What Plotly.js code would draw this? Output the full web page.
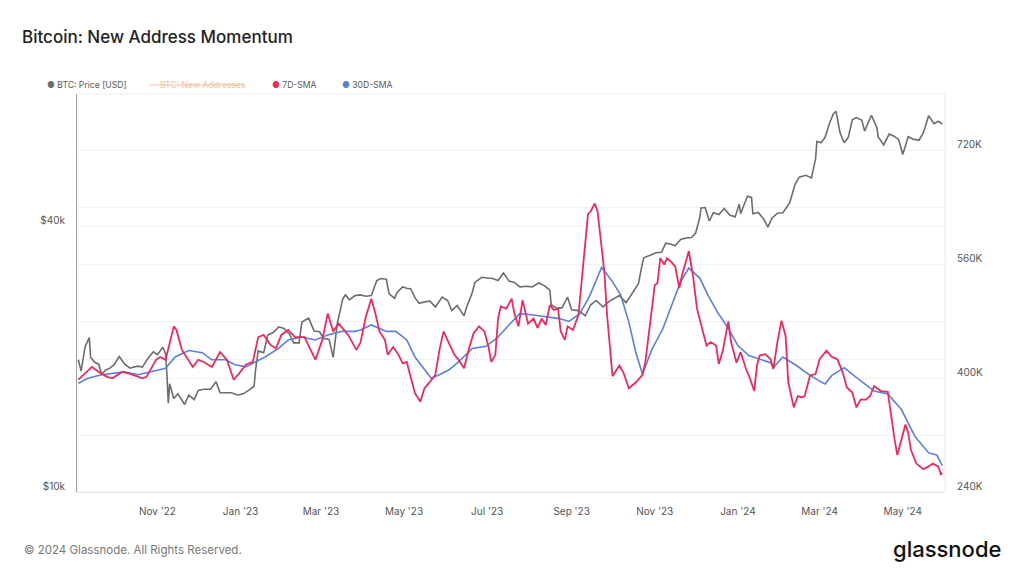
<!DOCTYPE html>
<html>
<head>
<meta charset="utf-8">
<script src="https://cdn.plot.ly/plotly-3.0.1.min.js"></script>
<style>html,body{margin:0;padding:0;background:#fff;}#chart{width:1024px;height:576px;}</style>
</head>
<body>
<div id="chart"></div>
<script>
// BTC price (USD), left log axis
const priceDates = ['2022-09-04','2022-09-06','2022-09-09','2022-09-12','2022-09-13','2022-09-16','2022-09-19','2022-09-21','2022-09-24','2022-09-27','2022-09-30','2022-10-04','2022-10-08','2022-10-12','2022-10-14','2022-10-18','2022-10-21','2022-10-25','2022-10-29','2022-11-01','2022-11-05','2022-11-07','2022-11-08','2022-11-09','2022-11-10','2022-11-13','2022-11-16','2022-11-21','2022-11-24','2022-11-28','2022-12-01','2022-12-05','2022-12-10','2022-12-14','2022-12-17','2022-12-21','2022-12-25','2022-12-30','2023-01-03','2023-01-08','2023-01-11','2023-01-12','2023-01-14','2023-01-18','2023-01-21','2023-01-25','2023-01-29','2023-02-02','2023-02-06','2023-02-09','2023-02-13','2023-02-15','2023-02-20','2023-02-24','2023-02-28','2023-03-03','2023-03-07','2023-03-10','2023-03-13','2023-03-17','2023-03-19','2023-03-22','2023-03-26','2023-03-30','2023-04-03','2023-04-07','2023-04-11','2023-04-14','2023-04-18','2023-04-20','2023-04-24','2023-04-26','2023-04-30','2023-05-03','2023-05-06','2023-05-09','2023-05-12','2023-05-16','2023-05-20','2023-05-24','2023-05-29','2023-06-02','2023-06-05','2023-06-09','2023-06-14','2023-06-16','2023-06-20','2023-06-22','2023-06-27','2023-07-01','2023-07-05','2023-07-09','2023-07-13','2023-07-17','2023-07-21','2023-07-25','2023-07-30','2023-08-03','2023-08-08','2023-08-12','2023-08-16','2023-08-17','2023-08-21','2023-08-25','2023-08-29','2023-09-01','2023-09-06','2023-09-11','2023-09-15','2023-09-19','2023-09-24','2023-09-28','2023-10-02','2023-10-06','2023-10-11','2023-10-16','2023-10-20','2023-10-23','2023-10-24','2023-10-29','2023-11-02','2023-11-06','2023-11-09','2023-11-13','2023-11-16','2023-11-20','2023-11-24','2023-11-28','2023-12-01','2023-12-04','2023-12-05','2023-12-08','2023-12-11','2023-12-14','2023-12-18','2023-12-22','2023-12-26','2023-12-30','2024-01-02','2024-01-03','2024-01-08','2024-01-11','2024-01-12','2024-01-16','2024-01-20','2024-01-23','2024-01-26','2024-01-30','2024-02-03','2024-02-08','2024-02-12','2024-02-15','2024-02-20','2024-02-24','2024-02-27','2024-02-28','2024-03-02','2024-03-05','2024-03-08','2024-03-11','2024-03-13','2024-03-16','2024-03-19','2024-03-22','2024-03-25','2024-03-28','2024-04-01','2024-04-03','2024-04-08','2024-04-12','2024-04-13','2024-04-17','2024-04-21','2024-04-24','2024-04-28','2024-05-01','2024-05-05','2024-05-09','2024-05-13','2024-05-16','2024-05-20','2024-05-24','2024-05-27','2024-05-30'];
const priceUSD = [19950,18800,21400,22400,20200,19700,19500,18500,18900,19100,19400,20300,19500,19100,19200,19300,19200,20100,20800,20500,21300,20600,18500,15900,17600,16300,16700,15800,16600,16200,17000,17100,17100,17800,16800,16800,16800,16600,16700,17100,17400,18900,20900,20700,22700,23000,23700,23500,22800,21800,21800,24300,24800,23200,23100,22300,22200,20200,24100,27400,28000,27300,27900,28000,27800,27900,30200,30500,30400,28200,27500,28400,29200,29000,28900,27600,26800,27000,27100,26300,27700,27200,25800,26500,25100,26300,28300,29900,30700,30600,30500,30200,31400,30100,29900,29200,29300,29200,29800,29400,28700,26600,26100,26200,27700,25900,25800,25100,26600,27200,26300,27000,27500,27900,26900,28500,29700,33100,34000,34500,34900,35000,36700,36500,36200,37400,37700,37800,38700,41900,44100,44200,41200,43000,42600,44000,42500,42100,45000,42800,46900,46600,42800,43100,41600,39900,41800,42900,43000,45300,49900,51800,52300,51600,57000,62500,62000,63800,68300,72100,73100,65300,62000,63800,69900,70700,69700,65900,71600,67100,63900,61300,64900,64300,63100,58300,64000,63100,62900,65200,71400,68500,69400,68400];

// 7D-SMA of new addresses (thousands), right axis
const sma7Dates = ['2022-09-04','2022-09-14','2022-09-19','2022-09-25','2022-09-29','2022-10-06','2022-10-11','2022-10-16','2022-10-21','2022-10-24','2022-10-31','2022-11-03','2022-11-07','2022-11-13','2022-11-15','2022-11-19','2022-11-24','2022-11-27','2022-12-01','2022-12-05','2022-12-11','2022-12-17','2022-12-22','2022-12-27','2022-12-31','2023-01-05','2023-01-10','2023-01-14','2023-01-18','2023-01-23','2023-01-27','2023-01-31','2023-02-05','2023-02-10','2023-02-17','2023-02-25','2023-03-02','2023-03-06','2023-03-10','2023-03-14','2023-03-21','2023-03-27','2023-03-30','2023-04-03','2023-04-07','2023-04-10','2023-04-13','2023-04-17','2023-04-19','2023-04-23','2023-04-27','2023-04-30','2023-05-03','2023-05-05','2023-05-09','2023-05-13','2023-05-16','2023-05-20','2023-05-24','2023-05-27','2023-05-30','2023-06-03','2023-06-07','2023-06-10','2023-06-14','2023-06-18','2023-06-21','2023-06-25','2023-06-29','2023-07-02','2023-07-04','2023-07-07','2023-07-09','2023-07-11','2023-07-15','2023-07-19','2023-07-21','2023-07-24','2023-07-27','2023-07-31','2023-08-04','2023-08-07','2023-08-10','2023-08-13','2023-08-16','2023-08-19','2023-08-22','2023-08-24','2023-08-27','2023-08-29','2023-09-02','2023-09-06','2023-09-08','2023-09-13','2023-09-15','2023-09-18','2023-09-20','2023-09-23','2023-09-25','2023-09-27','2023-10-01','2023-10-06','2023-10-09','2023-10-13','2023-10-18','2023-10-23','2023-10-25','2023-10-29','2023-11-01','2023-11-03','2023-11-05','2023-11-08','2023-11-10','2023-11-13','2023-11-16','2023-11-19','2023-11-21','2023-11-26','2023-11-29','2023-12-02','2023-12-06','2023-12-09','2023-12-12','2023-12-16','2023-12-18','2023-12-21','2023-12-23','2023-12-25','2023-12-27','2023-12-31','2024-01-03','2024-01-07','2024-01-10','2024-01-13','2024-01-15','2024-01-17','2024-01-21','2024-01-25','2024-01-27','2024-01-30','2024-02-02','2024-02-05','2024-02-07','2024-02-11','2024-02-14','2024-02-17','2024-02-19','2024-02-23','2024-02-27','2024-03-01','2024-03-06','2024-03-10','2024-03-14','2024-03-18','2024-03-21','2024-03-25','2024-03-28','2024-03-31','2024-04-04','2024-04-07','2024-04-10','2024-04-15','2024-04-20','2024-04-22','2024-04-25','2024-04-27','2024-04-30','2024-05-03','2024-05-05','2024-05-07','2024-05-11','2024-05-16','2024-05-20','2024-05-23','2024-05-27','2024-05-29','2024-05-30'];
const sma7K = [398,416,409,402,400,409,407,404,400,402,426,430,426,473,468,440,426,416,426,423,416,437,426,398,407,419,423,458,461,447,442,461,468,458,458,426,454,491,466,477,461,440,450,487,512,491,466,454,433,444,433,421,423,407,379,367,386,395,405,440,466,449,433,426,414,444,463,473,466,444,423,433,484,501,498,512,491,473,510,477,484,471,484,475,503,496,498,466,454,473,468,489,529,631,635,646,635,588,550,489,403,418,408,386,394,405,422,484,531,534,569,560,569,564,557,527,545,579,545,498,470,446,451,446,420,439,460,480,451,422,437,413,399,382,418,432,434,427,413,451,481,460,394,359,375,373,375,404,406,427,439,430,427,408,387,380,359,370,370,375,389,382,381,352,314,292,314,335,323,299,280,272,276,280,276,265,267];

// 30D-SMA of new addresses (thousands), right axis
const sma30Dates = ['2022-09-04','2022-09-11','2022-09-21','2022-10-01','2022-10-08','2022-10-18','2022-10-28','2022-11-07','2022-11-14','2022-11-24','2022-12-04','2022-12-11','2022-12-21','2022-12-28','2023-01-05','2023-01-12','2023-01-19','2023-01-29','2023-02-05','2023-02-15','2023-02-25','2023-03-06','2023-03-16','2023-03-26','2023-03-30','2023-04-07','2023-04-18','2023-04-25','2023-05-03','2023-05-09','2023-05-16','2023-05-21','2023-05-27','2023-06-03','2023-06-10','2023-06-20','2023-06-30','2023-07-08','2023-07-17','2023-07-25','2023-08-04','2023-08-13','2023-08-23','2023-08-30','2023-09-07','2023-09-14','2023-09-19','2023-09-23','2023-10-01','2023-10-07','2023-10-13','2023-10-18','2023-10-23','2023-10-30','2023-11-07','2023-11-14','2023-11-20','2023-11-26','2023-12-04','2023-12-10','2023-12-17','2023-12-25','2024-01-01','2024-01-09','2024-01-17','2024-01-25','2024-01-27','2024-02-03','2024-02-13','2024-02-23','2024-03-01','2024-03-05','2024-03-10','2024-03-19','2024-03-26','2024-04-03','2024-04-10','2024-04-20','2024-04-30','2024-05-10','2024-05-20','2024-05-26','2024-05-30'];
const sma30K = [393,400,405,407,409,405,409,414,430,439,436,426,426,419,416,423,430,442,454,458,454,461,466,466,468,475,466,466,454,430,412,400,405,412,423,442,445,456,475,491,489,487,484,480,491,515,538,556,536,517,479,437,406,441,470,507,536,555,541,517,493,470,446,432,427,422,415,430,418,404,396,392,404,415,404,392,382,378,356,318,295,292,277];

const leftTickVals = [10000, 20000, 40000];
const leftTickText = ['$10k', '', '$40k'];

const GRAY = '#6d6d6d', RED = '#ec2b5d', BLUE = '#5a80dc', PEACH = '#f4c3a3';

const traces = [
  {x: priceDates, y: priceUSD, type: 'scatter', mode: 'lines', name: 'BTC: Price [USD]', yaxis: 'y',
   line: {color: GRAY, width: 1.6}, hoverinfo: 'skip'},
  {x: sma30Dates, y: sma30K, type: 'scatter', mode: 'lines', name: '30D-SMA', yaxis: 'y2',
   line: {color: BLUE, width: 1.6}, hoverinfo: 'skip'},
  {x: sma7Dates, y: sma7K, type: 'scatter', mode: 'lines', name: '7D-SMA', yaxis: 'y2',
   line: {color: RED, width: 1.8}, hoverinfo: 'skip'}
];

const L = 77, R = 945, T = 94, B = 492;
const px = v => (v - L) / (R - L);
const py = v => (B - v) / (B - T);

const legY = py(85);
const annFont = {family: 'Inter, Roboto, sans-serif', size: 8.6, color: '#5a5a5a'};

const layout = {
  width: 1024, height: 576,
  margin: {l: L, r: 1024 - R, t: T, b: 576 - B, pad: 0},
  paper_bgcolor: '#ffffff', plot_bgcolor: '#ffffff',
  showlegend: false,
  font: {family: 'Inter, Roboto, sans-serif', size: 10, color: '#555'},
  title: {text: 'Bitcoin: New Address Momentum', x: 22/1024, xref: 'container', xanchor: 'left',
          y: 1 - 37/576, yref: 'container', yanchor: 'middle',
          font: {family: 'Inter, Roboto, sans-serif', size: 17, color: '#222', weight: 500}},
  xaxis: {type: 'date', range: ['2022-09-03', '2024-06-01'], tick0: '2022-11-01', dtick: 'M2',
          tickformat: "%b '%y", showgrid: false, zeroline: false, showline: true, linecolor: '#e6e6e6',
          ticks: '', ticklabelstandoff: 10, tickfont: {size: 10, color: '#555'}, fixedrange: true},
  yaxis: {type: 'log', range: [4, Math.log10(80000)], tickmode: 'array', tickvals: leftTickVals, ticktext: leftTickText,
          showgrid: true, gridcolor: '#f1f1f1', gridwidth: 1, zeroline: false, showline: true, linecolor: '#a3a3a3',
          ticks: '', ticklabelstandoff: 9, ticklabelshift: -6, tickfont: {size: 10, color: '#555'}, fixedrange: true},
  yaxis2: {overlaying: 'y', side: 'right', range: [240, 800], tick0: 240, dtick: 160, ticksuffix: 'K',
           showgrid: true, gridcolor: '#f1f1f1', zeroline: false, showline: false, ticks: '',
           minor: {tick0: 240, dtick: 80, showgrid: true, gridcolor: '#f1f1f1', ticks: ''},
           ticklabelstandoff: 11, ticklabelshift: -6, tickfont: {size: 10, color: '#555'}, fixedrange: true},
  shapes: [
    {type: 'rect', xref: 'paper', yref: 'paper', x0: 0, x1: 1, y0: 0, y1: 1, layer: 'below',
     line: {color: '#f1e9e4', width: 1}},
    {type: 'line', xref: 'paper', yref: 'paper', x0: px(149), x1: px(245), y0: legY, y1: legY,
     line: {color: PEACH, width: 1}}
  ],
  annotations: [
    {xref: 'paper', yref: 'paper', x: px(45), y: legY, xanchor: 'left', yanchor: 'middle', showarrow: false,
     text: '<span style="color:' + GRAY + '">●</span> BTC: Price [USD]', font: annFont},
    {xref: 'paper', yref: 'paper', x: px(158), y: legY, xanchor: 'left', yanchor: 'middle', showarrow: false,
     text: 'BTC: New Addresses', font: {family: annFont.family, size: 8.6, color: PEACH}},
    {xref: 'paper', yref: 'paper', x: px(270), y: legY, xanchor: 'left', yanchor: 'middle', showarrow: false,
     text: '<span style="color:' + RED + '">●</span> 7D-SMA', font: annFont},
    {xref: 'paper', yref: 'paper', x: px(340), y: legY, xanchor: 'left', yanchor: 'middle', showarrow: false,
     text: '<span style="color:' + BLUE + '">●</span> 30D-SMA', font: annFont},
    {xref: 'paper', yref: 'paper', x: px(22), y: py(550), xanchor: 'left', yanchor: 'middle', showarrow: false,
     text: '© 2024 Glassnode. All Rights Reserved.', font: {family: 'Inter, Roboto, sans-serif', size: 11.5, color: '#777'}},
    {xref: 'paper', yref: 'paper', x: px(1003), y: py(549), xanchor: 'right', yanchor: 'middle', showarrow: false,
     text: 'glassnode', font: {family: 'Inter, Roboto, sans-serif', size: 22, color: '#111', weight: 500}}
  ]
};

Plotly.newPlot('chart', traces, layout, {displayModeBar: false, staticPlot: true});
</script>
</body>
</html>
